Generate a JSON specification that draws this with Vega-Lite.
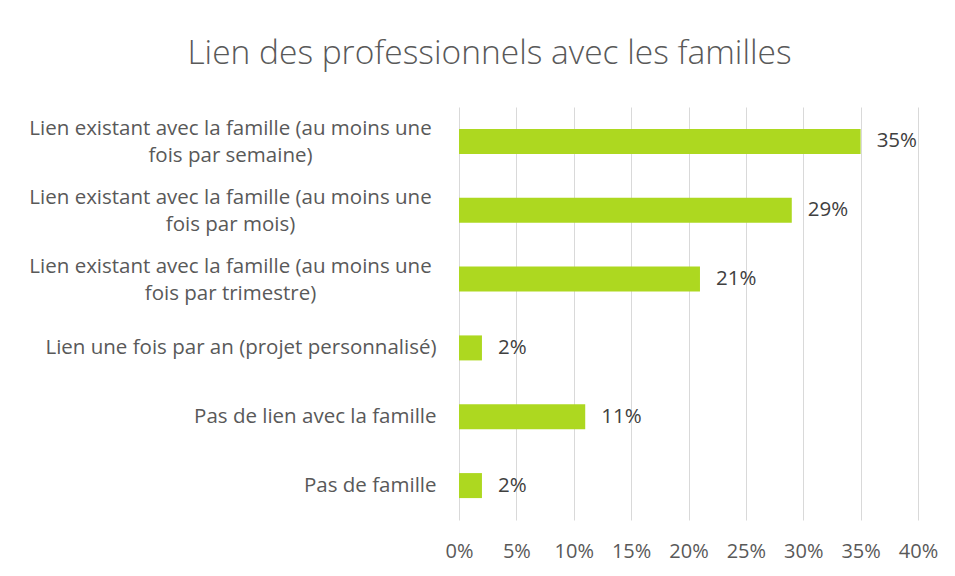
{
  "$schema": "https://vega.github.io/schema/vega-lite/v6.json",
  "width": 459,
  "height": 413,
  "autosize": {"type": "none"},
  "padding": {"left": 459, "top": 107, "right": 37, "bottom": 56},
  "background": "white",
  "title": {
    "text": "Lien des professionnels avec les familles",
    "anchor": "middle",
    "frame": "group",
    "dx": -199,
    "offset": 36,
    "font": "Open Sans",
    "fontSize": 33.5,
    "fontWeight": 300,
    "color": "#595959"
  },
  "data": {
    "values": [
      {"categorie": "Lien existant avec la famille (au moins une fois par semaine)", "valeur": 0.35},
      {"categorie": "Lien existant avec la famille (au moins une fois par mois)", "valeur": 0.29},
      {"categorie": "Lien existant avec la famille (au moins une fois par trimestre)", "valeur": 0.21},
      {"categorie": "Lien une fois par an (projet personnalisé)", "valeur": 0.02},
      {"categorie": "Pas de lien avec la famille", "valeur": 0.11},
      {"categorie": "Pas de famille", "valeur": 0.02}
    ]
  },
  "encoding": {
    "x": {
      "field": "valeur",
      "type": "quantitative",
      "scale": {"domain": [0, 0.4], "nice": false},
      "axis": {
        "title": null,
        "values": [0, 0.05, 0.1, 0.15, 0.2, 0.25, 0.3, 0.35, 0.4],
        "format": ".0%",
        "orient": "bottom",
        "domain": false,
        "ticks": false,
        "grid": true,
        "gridColor": "#d9d9d9",
        "gridWidth": 1,
        "labelFont": "Open Sans",
        "labelFontSize": 20,
        "labelColor": "#595959",
        "labelPadding": 21,
        "labelFlush": false
      }
    }
  },
  "layer": [
    {
      "mark": {"type": "bar", "color": "#ADD820", "height": 25},
      "encoding": {
        "y": {
          "field": "categorie",
          "type": "nominal",
          "sort": null,
          "axis": {
            "title": null,
            "orient": "left",
            "domain": false,
            "ticks": false,
            "grid": false,
            "labelExpr": "indexof(datum.label, 'moins une ') > 0 ? '' : datum.label",
            "labelAlign": "right",
            "labelBaseline": "middle",
            "labelPadding": 23,
            "labelFont": "Open Sans",
            "labelFontSize": 20.5,
            "labelColor": "#595959",
            "labelLimit": 500
          }
        }
      }
    },
    {
      "mark": {"type": "text", "align": "left", "baseline": "middle", "dx": 16, "font": "Open Sans", "fontSize": 20.5, "color": "#404040"},
      "encoding": {
        "y": {
          "field": "categorie",
          "type": "nominal",
          "sort": null,
          "axis": {
            "title": null,
            "orient": "left",
            "domain": false,
            "ticks": false,
            "grid": false,
            "labelExpr": "indexof(datum.label, 'moins une ') > 0 ? [substring(datum.label, 0, indexof(datum.label, 'moins une ') + 9), substring(datum.label, indexof(datum.label, 'moins une ') + 10)] : ''",
            "labelAlign": "center",
            "labelBaseline": "middle",
            "labelLineHeight": 27,
            "labelOffset": -12,
            "labelPadding": 229,
            "labelFont": "Open Sans",
            "labelFontSize": 20.5,
            "labelColor": "#595959",
            "labelLimit": 500
          }
        },
        "text": {"field": "valeur", "type": "quantitative", "format": ".0%"}
      }
    }
  ],
  "resolve": {"axis": {"y": "independent"}},
  "config": {"view": {"stroke": null}}
}
